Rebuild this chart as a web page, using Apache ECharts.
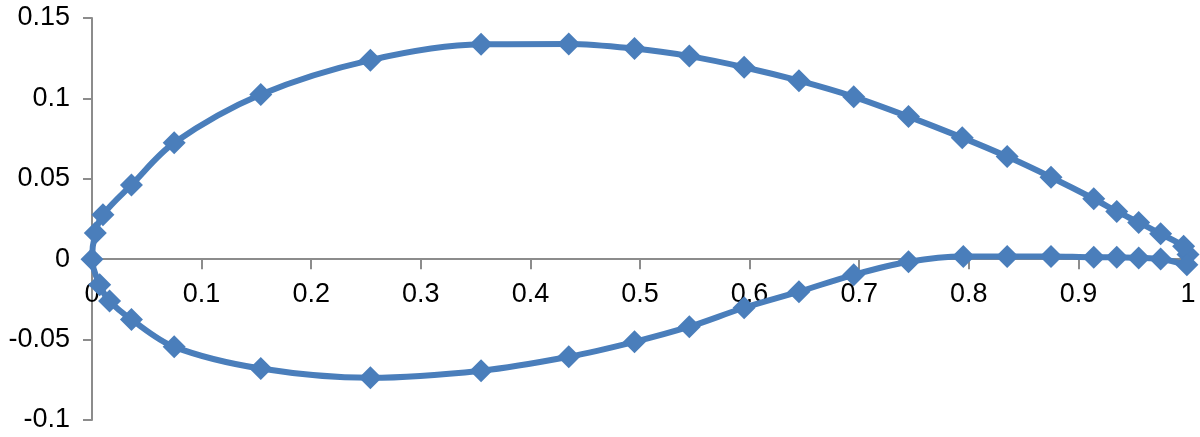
<!DOCTYPE html>
<html>
<head>
<meta charset="utf-8">
<script src="https://cdn.jsdelivr.net/npm/echarts@6/dist/echarts.min.js"></script>
<style>html,body{margin:0;padding:0;background:#fff}#c{width:1200px;height:437px}</style>
</head>
<body>
<div id="c"></div>
<script>
// Upper surface, trailing edge -> leading edge
var upperX = [1.0, 0.996, 0.975, 0.955, 0.935, 0.914, 0.875, 0.835, 0.794, 0.745, 0.695, 0.645, 0.595, 0.545, 0.495, 0.435, 0.355, 0.254, 0.154, 0.075, 0.036, 0.010, 0.003, 0.0];
var upperY = [0.003, 0.0080, 0.0158, 0.0229, 0.0297, 0.0376, 0.0510, 0.0638, 0.0756, 0.0887, 0.1010, 0.1110, 0.1194, 0.1263, 0.1310, 0.1339, 0.1336, 0.1238, 0.1024, 0.0724, 0.0462, 0.0277, 0.0163, 0.0];
// Lower surface, leading edge -> trailing edge
var lowerX = [0.007, 0.016, 0.036, 0.075, 0.154, 0.254, 0.355, 0.435, 0.495, 0.545, 0.595, 0.645, 0.695, 0.745, 0.795, 0.835, 0.875, 0.914, 0.935, 0.955, 0.975, 0.999];
var lowerY = [-0.0159, -0.0260, -0.0375, -0.0545, -0.0680, -0.0738, -0.0694, -0.0607, -0.0514, -0.0420, -0.0302, -0.0202, -0.0097, -0.0016, 0.0017, 0.0017, 0.0017, 0.0012, 0.0012, 0.0008, 0.0001, -0.0035];

var yMin = -0.1, yMax = 0.15;

var data = [];
for (var i = 0; i < upperX.length; i++) data.push([upperX[i], upperY[i]]);
for (var j = 0; j < lowerX.length; j++) data.push([lowerX[j], lowerY[j]]);

var gTop = 18, gBottom = 17, H = 437;
var gH = H - gTop - gBottom;
var zeroOffset = -gH * (0 - yMin) / (yMax - yMin);

var axisColor = '#8c8c8c';
var font = 'Liberation Sans, Arial, sans-serif';
var chart = echarts.init(document.getElementById('c'));
chart.setOption({
  animation: false,
  grid: {left: 92, right: 12, top: gTop, bottom: gBottom, containLabel: false, outerBoundsMode: 'none'},
  xAxis: {
    type: 'value', min: 0, max: 1, interval: 0.1,
    position: 'bottom', offset: zeroOffset,
    axisLine: {show: true, onZero: false, lineStyle: {color: axisColor, width: 2}},
    axisTick: {show: true, inside: false, length: 10, lineStyle: {color: axisColor, width: 2}},
    splitLine: {show: false},
    axisLabel: {color: '#000', fontSize: 27, fontFamily: font, margin: 22, showMinLabel: true, showMaxLabel: true}
  },
  yAxis: {
    type: 'value', min: yMin, max: yMax, interval: 0.05,
    axisLine: {show: true, onZero: false, lineStyle: {color: axisColor, width: 2}},
    axisTick: {show: true, inside: false, length: 9, lineStyle: {color: axisColor, width: 2}},
    splitLine: {show: false},
    axisLabel: {color: '#000', fontSize: 27, fontFamily: font, margin: 22}
  },
  series: [{
    type: 'line',
    data: data,
    smooth: 0.33,
    symbol: 'diamond',
    symbolSize: 23,
    showAllSymbol: true,
    z: 3,
    lineStyle: {color: '#4a7ebb', width: 6},
    itemStyle: {color: '#4a7ebb'}
  }]
});
</script>
</body>
</html>
